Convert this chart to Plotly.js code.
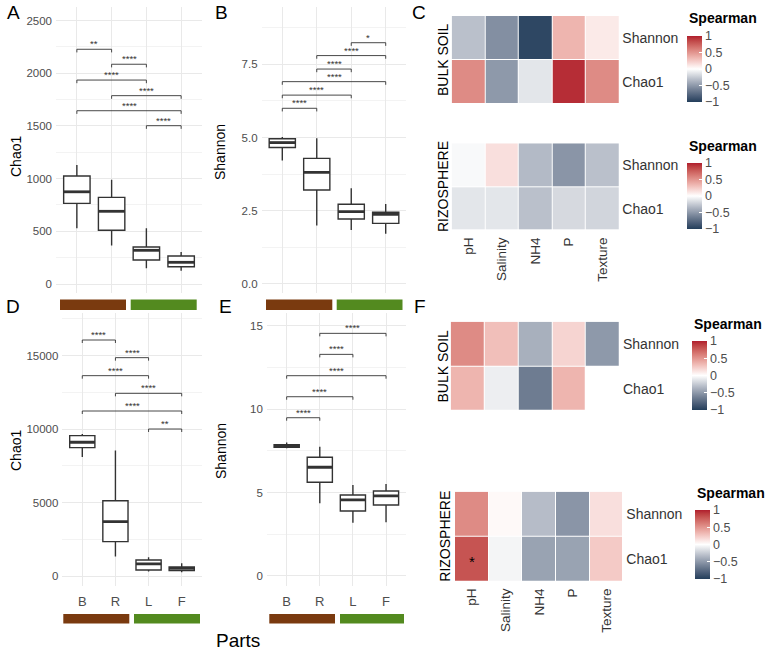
<!DOCTYPE html>
<html>
<head>
<meta charset="utf-8">
<script src="https://cdn.plot.ly/plotly-3.0.1.min.js"></script>
<style>
  html, body { margin: 0; padding: 0; background: #fff; }
  #chart { width: 767px; height: 653px; }
</style>
</head>
<body>
<div id="chart"></div>
<script>
// ---------------- data ----------------
const parts = ["B", "R", "L", "F"];

// A: Chao1 (box summaries per plant part)
const chaoA_low  = [530, 365, 150, 125];
const chaoA_q1   = [765, 510, 228, 164];
const chaoA_med  = [875, 690, 320, 206];
const chaoA_q3   = [1025, 822, 352, 266];
const chaoA_high = [1130, 990, 530, 303];
const sigA_pairs   = [[0, 1], [1, 2], [0, 2], [1, 3], [0, 3], [2, 3]];
const sigA_heights = [2227, 2085, 1935, 1787, 1644, 1502];
const sigA_labels  = ["**", "****", "****", "****", "****", "****"];

// B: Shannon
const shanB_low  = [4.22, 2.00, 1.84, 1.71];
const shanB_q1   = [4.66, 3.21, 2.22, 2.07];
const shanB_med  = [4.83, 3.81, 2.47, 2.38];
const shanB_q3   = [4.96, 4.29, 2.72, 2.45];
const shanB_high = [5.02, 4.98, 3.27, 2.73];
const sigB_pairs   = [[0, 1], [0, 2], [0, 3], [1, 2], [1, 3], [2, 3]];
const sigB_heights = [6.00, 6.45, 6.91, 7.34, 7.80, 8.24];
const sigB_labels  = ["****", "****", "****", "****", "****", "*"];

// D: Chao1
const chaoD_low  = [8100, 1320, 300, 250];
const chaoD_q1   = [8730, 2340, 410, 365];
const chaoD_med  = [9100, 3700, 820, 520];
const chaoD_q3   = [9550, 5120, 1090, 610];
const chaoD_high = [9660, 8530, 1270, 860];
const sigD_pairs   = [[0, 1], [1, 2], [0, 2], [1, 3], [0, 3], [2, 3]];
const sigD_heights = [16054, 14853, 13628, 12426, 11224, 10000];
const sigD_labels  = ["****", "****", "****", "****", "****", "**"];

// E: Shannon
const shanE_low  = [7.66, 4.36, 3.20, 3.22];
const shanE_q1   = [7.72, 5.62, 3.90, 4.26];
const shanE_med  = [7.80, 6.52, 4.56, 4.81];
const shanE_q3   = [7.88, 7.12, 4.86, 5.10];
const shanE_high = [8.00, 7.75, 5.46, 5.52];
const sigE_pairs   = [[0, 1], [0, 2], [0, 3], [1, 2], [1, 3]];
const sigE_heights = [9.49, 10.75, 12.01, 13.29, 14.55];
const sigE_labels  = ["****", "****", "****", "****", "****"];

// Spearman correlations with soil variables
const soilVars = ["pH", "Salinity", "NH4", "P", "Texture"];
const indices  = ["Chao1", "Shannon"];   // bottom row first
const C_bulk_shannon = [-0.30, -0.55, -0.95, 0.35, 0.10];
const C_bulk_chao1   = [0.55, -0.50, -0.12, 0.95, 0.55];
const C_rhizo_shannon = [-0.03, 0.15, -0.33, -0.52, -0.30];
const C_rhizo_chao1   = [-0.12, -0.12, -0.30, -0.18, -0.20];
const F_bulk_shannon = [0.55, 0.30, -0.38, 0.20, -0.50];
const F_bulk_chao1   = [0.35, -0.08, -0.65, 0.35, 0.00];
const F_rhizo_shannon = [0.55, 0.03, -0.32, -0.52, 0.15];
const F_rhizo_chao1   = [0.80, -0.05, -0.45, -0.45, 0.25];
const F_rhizo_chao1_sig = ["*", "", "", "", ""];

const corrTicks = [-1, -0.5, 0, 0.5, 1];
const corrTickText = ["\u22121", "\u22120.5", "0", "0.5", "1"];

// ---------------- helpers ----------------
const W = 767, H = 653;
const fx = px => px / W;
const fy = py => 1 - py / H;
const xdom = (a, b) => [fx(a), fx(b)];
const ydom = (top, bottom) => [fy(bottom), fy(top)];

const FONT = "Liberation Sans, Arial, Helvetica, sans-serif";
const DARK = "#333333";
const GRIDC = "#e9e9e9";
const MINORC = "#f3f3f3";
const TICKC = "#4d4d4d";
const BROWN = "#7a3a0f";
const GREEN = "#538a1f";

// diverging scale interpolated in CIE Lab (white midpoint)
function hex2rgb(h) { return [1, 3, 5].map(i => parseInt(h.slice(i, i + 2), 16)); }
function rgb2lab(c) {
  let [r, g, b] = c.map(v => { v /= 255; return v > 0.04045 ? Math.pow((v + 0.055) / 1.055, 2.4) : v / 12.92; });
  let X = (r * 0.4124 + g * 0.3576 + b * 0.1805) / 0.95047;
  let Y = (r * 0.2126 + g * 0.7152 + b * 0.0722);
  let Z = (r * 0.0193 + g * 0.1192 + b * 0.9505) / 1.08883;
  const f = t => t > 0.008856 ? Math.cbrt(t) : 7.787 * t + 16 / 116;
  X = f(X); Y = f(Y); Z = f(Z);
  return [116 * Y - 16, 500 * (X - Y), 200 * (Y - Z)];
}
function lab2rgb(lab) {
  let Y = (lab[0] + 16) / 116, X = lab[1] / 500 + Y, Z = Y - lab[2] / 200;
  const g = t => t * t * t > 0.008856 ? t * t * t : (t - 16 / 116) / 7.787;
  X = 0.95047 * g(X); Y = g(Y); Z = 1.08883 * g(Z);
  let r = X * 3.2406 + Y * -1.5372 + Z * -0.4986;
  let gg = X * -0.9689 + Y * 1.8758 + Z * 0.0415;
  let b = X * 0.0557 + Y * -0.2040 + Z * 1.0570;
  return [r, gg, b].map(v => {
    v = v > 0.0031308 ? 1.055 * Math.pow(v, 1 / 2.4) - 0.055 : 12.92 * v;
    return Math.max(0, Math.min(255, Math.round(v * 255)));
  });
}
function mixLab(c1, c2, t) {
  const a = rgb2lab(hex2rgb(c1)), b = rgb2lab(hex2rgb(c2));
  const rgb = lab2rgb(a.map((v, i) => v + (b[i] - v) * t));
  return "rgb(" + rgb.join(",") + ")";
}
const LOW = "#233e5b", MID = "#ffffff", HIGH = "#b01e2d";
const corrScale = [];
for (let i = 0; i <= 20; i++) {
  const v = -1 + i / 10;
  corrScale.push([i / 20, v < 0 ? mixLab(MID, LOW, -v) : mixLab(MID, HIGH, v)]);
}

const data = [];
const annotations = [];
const shapes = [];
const layout = {
  width: W, height: H,
  margin: { l: 0, r: 0, t: 0, b: 0 },
  paper_bgcolor: "#fff", plot_bgcolor: "#fff",
  showlegend: false,
  font: { family: FONT, color: DARK },
  annotations, shapes
};

// ---------------- box panels ----------------
function boxPanel(n, cfg) {
  const xa = "x" + n, ya = "y" + n;
  const idx = parts.map((_, i) => i);
  data.push({
    type: "box", x: idx,
    q1: cfg.q1, median: cfg.med, q3: cfg.q3,
    lowerfence: cfg.low, upperfence: cfg.high,
    width: 0.76, whiskerwidth: 0, boxpoints: false,
    fillcolor: "#ffffff", line: { color: DARK, width: 1.4 },
    xaxis: xa, yaxis: ya, hoverinfo: "skip"
  });
  // heavier median bars
  const mx = [], my = [];
  cfg.med.forEach((m, i) => { mx.push(i - 0.38, i + 0.38, null); my.push(m, m, null); });
  data.push({ type: "scatter", mode: "lines", x: mx, y: my, line: { color: DARK, width: 2.8 },
              xaxis: xa, yaxis: ya, hoverinfo: "skip" });
  // significance brackets
  const span = cfg.range[1] - cfg.range[0];
  const tip = span * 0.011;
  const bx = [], by = [];
  cfg.pairs.forEach((p, k) => {
    const h = cfg.heights[k];
    bx.push(p[0], p[0], p[1], p[1], null);
    by.push(h - tip, h, h, h - tip, null);
    annotations.push({ xref: xa, yref: ya, x: (p[0] + p[1]) / 2, y: h, text: cfg.labels[k],
      showarrow: false, yanchor: "bottom", yshift: -2,
      font: { size: 9.5, color: DARK, family: FONT } });
  });
  data.push({ type: "scatter", mode: "lines", x: bx, y: by, line: { color: DARK, width: 0.9 },
              xaxis: xa, yaxis: ya, hoverinfo: "skip" });

  layout["xaxis" + n] = {
    domain: cfg.xd, anchor: ya, range: [-0.6, 3.6],
    tickmode: "array", tickvals: idx, ticktext: parts,
    showticklabels: cfg.showX, ticks: "", showline: false, zeroline: false,
    showgrid: true, gridcolor: GRIDC, gridwidth: 1,
    tickfont: { size: 13, color: TICKC, family: FONT }, ticklabelstandoff: 6, fixedrange: true
  };
  layout["yaxis" + n] = {
    domain: cfg.yd, anchor: xa, range: cfg.range,
    tickmode: "linear", tick0: 0, dtick: cfg.dtick, tickformat: cfg.fmt,
    ticks: "", showline: false, zeroline: false,
    showgrid: true, gridcolor: GRIDC, gridwidth: 1,
    minor: { tickmode: "linear", tick0: 0, dtick: cfg.dtick / 2, showgrid: true, gridcolor: MINORC, gridwidth: 1 },
    tickfont: { size: 11.5, color: TICKC, family: FONT }, ticklabelstandoff: 3, fixedrange: true
  };
}

boxPanel(1, { q1: chaoA_q1, med: chaoA_med, q3: chaoA_q3, low: chaoA_low, high: chaoA_high,
  pairs: sigA_pairs, heights: sigA_heights, labels: sigA_labels,
  xd: xdom(56, 202), yd: ydom(7, 293), range: [-85, 2628], dtick: 500, fmt: "d", showX: false });
boxPanel(2, { q1: shanB_q1, med: shanB_med, q3: shanB_q3, low: shanB_low, high: shanB_high,
  pairs: sigB_pairs, heights: sigB_heights, labels: sigB_labels,
  xd: xdom(261.6, 406.4), yd: ydom(7, 293), range: [-0.31, 9.46], dtick: 2.5, fmt: ".1f", showX: false });
boxPanel(3, { q1: chaoD_q1, med: chaoD_med, q3: chaoD_q3, low: chaoD_low, high: chaoD_high,
  pairs: sigD_pairs, heights: sigD_heights, labels: sigD_labels,
  xd: xdom(62.4, 201.6), yd: ydom(313, 586), range: [-680, 17891], dtick: 5000, fmt: "d", showX: true });
boxPanel(4, { q1: shanE_q1, med: shanE_med, q3: shanE_q3, low: shanE_low, high: shanE_high,
  pairs: sigE_pairs, heights: sigE_heights, labels: sigE_labels,
  xd: xdom(266.8, 405.9), yd: ydom(313, 586), range: [-0.6, 15.77], dtick: 5, fmt: "d", showX: true });

// plant-part colour strips (bulk soil/rhizosphere vs. leaf/fruit)
function strip(x0, x1, y0, y1, color) {
  shapes.push({ type: "rect", xref: "paper", yref: "paper", x0: fx(x0), x1: fx(x1), y0: fy(y1), y1: fy(y0),
    fillcolor: color, line: { width: 0 }, layer: "above" });
}
strip(60, 126, 299.5, 310, BROWN);   strip(130.7, 196.7, 299.5, 310, GREEN);
strip(266, 332.3, 299.5, 310, BROWN); strip(336.7, 402.5, 299.5, 310, GREEN);
strip(63.3, 129.3, 614, 623.5, BROWN); strip(134, 200, 614, 623.5, GREEN);
strip(269.3, 335, 614, 623.5, BROWN); strip(340, 404, 614, 623.5, GREEN);

// ---------------- heatmaps ----------------
function heatPanel(n, cfg) {
  const xa = "x" + n, ya = "y" + n;
  data.push({
    type: "heatmap", x: soilVars, y: indices, z: [cfg.chao1, cfg.shannon],
    zmin: -1, zmax: 1, colorscale: corrScale, xgap: 1, ygap: 1,
    xaxis: xa, yaxis: ya, hoverinfo: "skip",
    colorbar: {
      x: fx(cfg.cb[0]), xanchor: "left", y: fy(cfg.cb[2]), yanchor: "bottom",
      len: cfg.cb[2] - cfg.cb[1], lenmode: "pixels", thickness: 15, thicknessmode: "pixels",
      xpad: 0, ypad: 0, outlinewidth: 0,
      tickmode: "array", tickvals: corrTicks, ticktext: corrTickText,
      ticks: "inside", ticklen: 3, tickwidth: 1, tickcolor: "#ffffff",
      tickfont: { size: 12.5, color: TICKC, family: FONT }
    }
  });
  annotations.push({ xref: "paper", yref: "paper", x: fx(cfg.cb[0]), y: fy(cfg.titleY), xanchor: "left", yanchor: "middle",
    text: "<b>Spearman</b>", showarrow: false, font: { size: 14, color: "#000", family: FONT } });
  annotations.push({ xref: "paper", yref: "paper", x: fx(cfg.rowLab[0]), y: fy(cfg.rowLab[1]), textangle: -90,
    xanchor: "center", yanchor: "middle", text: cfg.group, showarrow: false,
    font: { size: 14, color: "#000", family: FONT } });
  layout["xaxis" + n] = {
    domain: cfg.xd, anchor: ya, type: "category", categoryorder: "array", categoryarray: soilVars,
    showticklabels: cfg.showX, tickangle: -90, ticks: "", showgrid: false, zeroline: false, showline: false,
    tickfont: { size: 13.5, color: DARK, family: FONT }, ticklabelstandoff: 3, fixedrange: true
  };
  layout["yaxis" + n] = {
    domain: cfg.yd, anchor: xa, side: "right", type: "category", categoryorder: "array", categoryarray: indices,
    ticks: "", showgrid: false, zeroline: false, showline: false,
    tickfont: { size: 14, color: DARK, family: FONT }, ticklabelstandoff: 2, fixedrange: true
  };
  if (cfg.sig) {
    cfg.sig.forEach((s, i) => {
      if (s) annotations.push({ xref: xa, yref: ya, x: soilVars[i], y: "Chao1", text: s, showarrow: false,
        yshift: -2, font: { size: 15, color: "#000", family: FONT } });
    });
  }
}

heatPanel(5, { shannon: C_bulk_shannon, chao1: C_bulk_chao1, group: "BULK SOIL",
  xd: xdom(451.7, 619.3), yd: ydom(16, 104), showX: false,
  cb: [686.7, 36, 102], titleY: 18.5, rowLab: [443, 60] });
heatPanel(6, { shannon: C_rhizo_shannon, chao1: C_rhizo_chao1, group: "RIZOSPHERE",
  xd: xdom(451.7, 619.3), yd: ydom(143.3, 230.7), showX: true,
  cb: [686.7, 163, 229], titleY: 145.5, rowLab: [443, 187] });
heatPanel(7, { shannon: F_bulk_shannon, chao1: F_bulk_chao1, group: "BULK SOIL",
  xd: xdom(450.7, 620), yd: ydom(321.7, 411), showX: false,
  cb: [691.7, 341, 410], titleY: 324, rowLab: [442, 366.5] });
heatPanel(8, { shannon: F_rhizo_shannon, chao1: F_rhizo_chao1, group: "RIZOSPHERE", sig: F_rhizo_chao1_sig,
  xd: xdom(455, 623.3), yd: ydom(491.7, 581.7), showX: true,
  cb: [695, 510, 579], titleY: 493, rowLab: [445, 536.7] });

// ---------------- titles and panel letters ----------------
function label(text, px, py, size, angle) {
  annotations.push({ xref: "paper", yref: "paper", x: fx(px), y: fy(py), xanchor: "center", yanchor: "middle",
    text: text, showarrow: false, textangle: angle || 0, font: { size: size, color: "#000", family: FONT } });
}
label("Chao1", 16, 157, 14, -90);
label("Shannon", 220, 152, 14, -90);
label("Chao1", 16, 451, 14, -90);
label("Shannon", 221, 451, 14, -90);
label("Parts", 238, 640, 19);
label("A", 14, 13, 19); label("B", 222, 13, 19); label("C", 419, 13, 19);
label("D", 13, 306, 19); label("E", 225, 306, 19); label("F", 420, 306, 19);

Plotly.newPlot("chart", data, layout, { staticPlot: true, displayModeBar: false });
</script>
</body>
</html>
